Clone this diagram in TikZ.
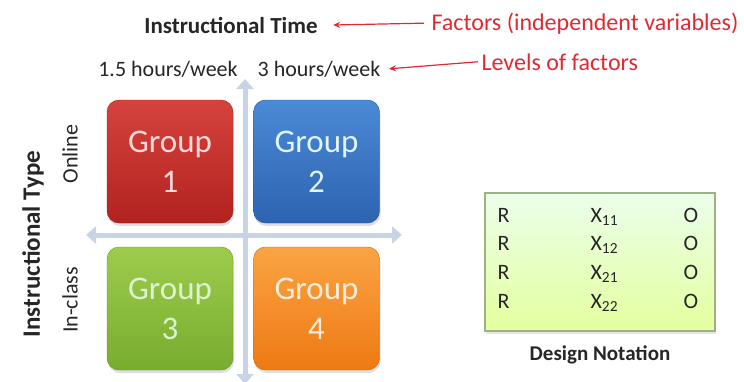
\documentclass[tikz,border=0pt]{standalone}
\usepackage{fontspec}
\setmainfont{Carlito}
\usepackage{xcolor}
\usepackage{tikz}
\usetikzlibrary{arrows.meta, positioning, shadows}

\definecolor{axisblue}{HTML}{C8D4E6}
\definecolor{inkgrey}{HTML}{262626}
\definecolor{noteRed}{HTML}{E02A33}
\definecolor{notebox}{HTML}{9DB284}
\definecolor{redTop}{HTML}{D6433D}
\definecolor{redBot}{HTML}{B2221F}
\definecolor{blueTop}{HTML}{4B8AD6}
\definecolor{blueBot}{HTML}{2D63B1}
\definecolor{greenTop}{HTML}{9DCC4C}
\definecolor{greenBot}{HTML}{78AC2F}
\definecolor{orangeTop}{HTML}{FAA444}
\definecolor{orangeBot}{HTML}{EE7913}

\begin{document}
\begin{tikzpicture}[
  x=1pt, y=-1pt,
  group/.style={rounded corners=12pt, minimum width=126pt, minimum height=123pt, align=center, inner sep=0pt,
    font=\fontsize{33}{40}\selectfont, drop shadow={shadow xshift=1pt, shadow yshift=-3pt, opacity=0.25}},
  axis/.style={{Triangle[length=10pt,width=17pt]}-{Triangle[length=10pt,width=17pt]}, line width=5pt, draw=axisblue},
  label/.style={text=inkgrey, font=\fontsize{22}{24}\selectfont},
  head/.style={text=inkgrey, font=\bfseries\fontsize{23}{25}\selectfont},
  remark/.style={text=noteRed, font=\fontsize{24}{26}\selectfont, anchor=base west},
  pointer/.style={-{Stealth[length=7pt,width=6pt]}, noteRed, line width=1.2pt},
  cell/.style={text=inkgrey, font=\fontsize{22}{24}\selectfont}
]
\useasboundingbox (0,0) rectangle (744,381);

% axes behind the groups
\coordinate (vtop) at (245,79);
\coordinate (vbot) at (245,384);
\coordinate (hleft) at (86,235);
\coordinate (hright) at (402,235);
\draw[axis] (vbot) -- (vtop);
\draw[axis] (hleft) -- (hright);

% the four groups
\node[group, top color=redTop, bottom color=redBot, draw=redBot!85!black, text=red!15!white] (g1) at (170,161.5) {Group\\1};
\node[group, top color=blueTop, bottom color=blueBot, draw=blueBot!85!black, text=cyan!12!white] (g2) at (316.5,161.5) {Group\\2};
\node[group, top color=greenTop, bottom color=greenBot, draw=greenBot!85!black, text=yellow!25!green!18!white] (g3) at (170,308.5) {Group\\3};
\node[group, top color=orangeTop, bottom color=orangeBot, draw=orangeBot!85!black, text=orange!15!white] (g4) at (316.5,308.5) {Group\\4};

% factor and levels
\node[head, anchor=base] (time) at (231,33) {Instructional Time};
\node[remark] (factors) at (428,30) {Factors (independent variables)};
\node[label, anchor=base] (lowlev) at (168,76) {1.5 hours/week};
\node[label, anchor=base] (highlev) at (319,76) {3 hours/week};
\node[remark] (levels) at (478,70) {Levels of factors};
\draw[pointer] ([xshift=-4pt]factors.west) -- ([xshift=12pt]time.east);
\draw[pointer] (levels.west) -- ([xshift=5pt]highlev.east);

\node[head, rotate=90, font=\bfseries\fontsize{25}{27}\selectfont] (type) at (33,244) {Instructional Type};
\node[label, rotate=90] (online) at (70,154) {Online};
\node[label, rotate=90] (inclass) at (70,300) {In-class};

% design notation
\node[draw=notebox, line width=1.2pt, top color=green!8!white, bottom color=green!28!yellow!38!white,
  minimum width=230pt, minimum height=138pt, drop shadow={shadow xshift=1pt, shadow yshift=-3pt, opacity=0.2}] (design) at (600,262) {};
\foreach \row/\sub in {0/11, 1/12, 2/21, 3/22} {
  \node[cell, anchor=base west] (r\sub) at (494,222+28.7*\row) {R};
  \node[cell, anchor=base west] (x\sub) at (587,222+28.7*\row) {X\textsubscript{\sub}};
  \node[cell, anchor=base] (o\sub) at (691,222+28.7*\row) {O};
}
\node[head, font=\bfseries\fontsize{21}{23}\selectfont, anchor=base] (dnote) at (design.south |- 0,360) {Design Notation};
\end{tikzpicture}
\end{document}
